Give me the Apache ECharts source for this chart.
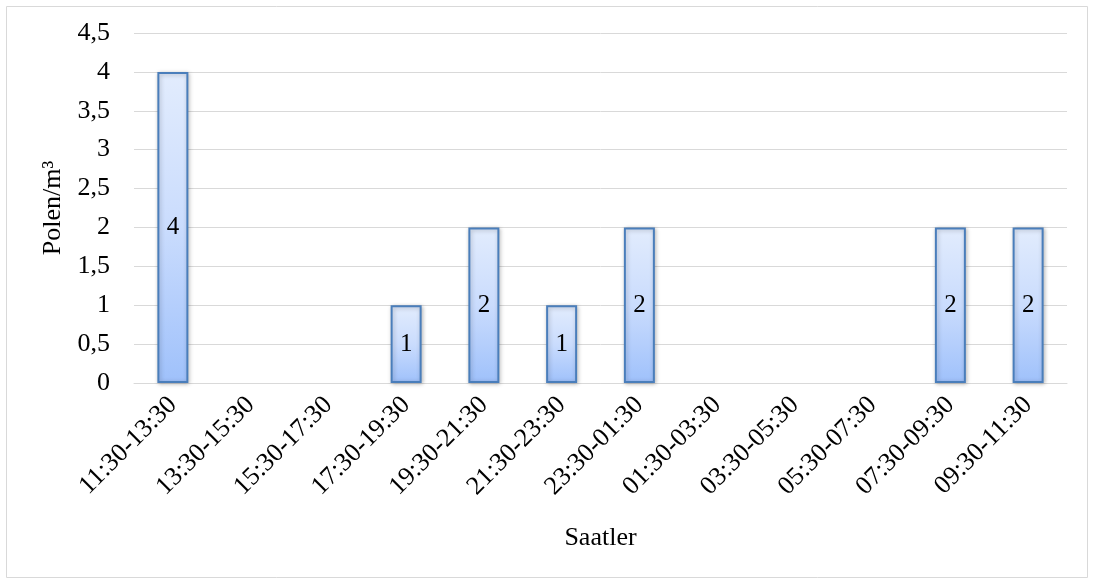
<!DOCTYPE html>
<html><head><meta charset="utf-8">
<script src="https://cdn.jsdelivr.net/npm/echarts@6/dist/echarts.min.js"></script>
<style>html,body{margin:0;padding:0;background:#fff}#c{width:1094px;height:583px}</style>
</head><body><div id="c"></div>
<script>
const categories = ['11:30-13:30','13:30-15:30','15:30-17:30','17:30-19:30','19:30-21:30','21:30-23:30','23:30-01:30','01:30-03:30','03:30-05:30','05:30-07:30','07:30-09:30','09:30-11:30'];
const values = [4,0,0,1,2,1,2,0,0,0,2,2];
const yTicks = { min: 0, max: 4.5, interval: 0.5 };
const serif = '"Liberation Serif","Times New Roman",serif';
const chart = echarts.init(document.getElementById('c'));
chart.setOption({
  animation: false,
  graphic: [{ type: 'rect', shape: { x: 6.5, y: 6.5, width: 1081, height: 571 }, style: { fill: 'none', stroke: '#d9d9d9', lineWidth: 1 } }],
  grid: { left: 134, right: 27, top: 33, bottom: 200 },
  xAxis: {
    type: 'category', data: categories,
    axisLine: { lineStyle: { color: '#d9d9d9' } },
    axisTick: { show: false },
    axisLabel: { rotate: 45, color: '#000', fontFamily: serif, fontSize: 26, margin: 18, interval: 0 },
    name: 'Saatler', nameLocation: 'middle', nameGap: 142,
    nameTextStyle: { color: '#000', fontFamily: serif, fontSize: 26 }
  },
  yAxis: {
    type: 'value', min: yTicks.min, max: yTicks.max, interval: yTicks.interval,
    axisLine: { show: false }, axisTick: { show: false },
    splitLine: { lineStyle: { color: '#d9d9d9', width: 1 } },
    axisLabel: { color: '#000', fontFamily: serif, fontSize: 26, margin: 24,
      formatter: v => String(v).replace('.', ',') },
    name: 'Polen/m³', nameLocation: 'middle', nameGap: 58, nameRotate: 90,
    nameTextStyle: { color: '#000', fontFamily: serif, fontSize: 26 }
  },
  series: [{
    type: 'bar', data: values.map(v => v === 0 ? null : v), barWidth: 31,
    itemStyle: {
      color: new echarts.graphic.LinearGradient(0, 0, 0, 1, [
        { offset: 0, color: '#e2ecfd' }, { offset: 0.5, color: '#cadcfd' }, { offset: 1, color: '#9fc1fb' }
      ]),
      borderColor: '#4a7ebb', borderWidth: 2,
      shadowColor: 'rgba(0,0,0,0.25)', shadowBlur: 4, shadowOffsetX: 1, shadowOffsetY: 1
    },
    label: { show: true, position: 'inside', color: '#000', fontFamily: serif, fontSize: 25,
      formatter: p => p.value ? String(p.value) : '' }
  }]
});
</script></body></html>
